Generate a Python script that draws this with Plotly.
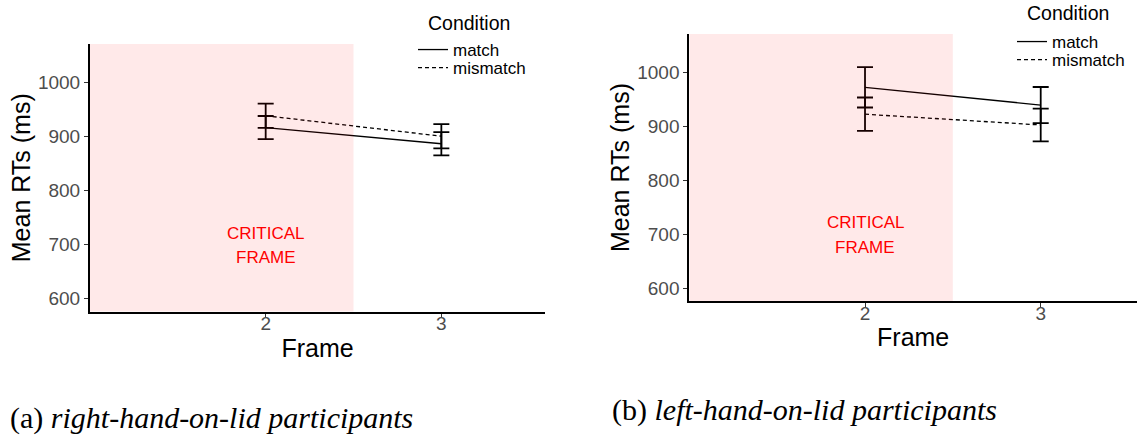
import plotly.graph_objects as go

# ---------------- data ----------------
frames = [2, 3]
x_tickvals = [2, 3]
x_ticktext = ["2", "3"]
y_tickvals = [600, 700, 800, 900, 1000]
conditions = ["match", "mismatch"]

# (a) right-hand-on-lid participants
right_hand_match = [917, 887]
right_hand_match_se = [21.5, 21.5]
right_hand_mismatch = [939, 901]
right_hand_mismatch_se = [22.5, 22.5]

# (b) left-hand-on-lid participants
left_hand_match = [973, 940]
left_hand_match_se = [37.5, 33.5]
left_hand_mismatch = [923, 903]
left_hand_mismatch_se = [31, 30.5]

critical_frame_start = 1.0
critical_frame_end = 2.5
critical_label_lines = ["CRITICAL", "FRAME"]
critical_label_y = [721, 676]
captions = ["(a) <i>right-hand-on-lid participants</i>",
            "(b) <i>left-hand-on-lid participants</i>"]

# ---------------- style / layout helpers ----------------
SANS = "Liberation Sans, Arial, sans-serif"
SERIF = "Liberation Serif, Times New Roman, serif"
dash_styles = {"match": "solid", "mismatch": "4px,3px"}

W, H = 1137, 436


def px(x):                   # page pixel -> paper x
    return x / W


def py(y):                   # page pixel -> paper y
    return 1 - y / H


fig = go.Figure()

panels = [
    dict(x="x", y="y", legends=["legend", "legend2"],
         series={"match": (right_hand_match, right_hand_match_se),
                 "mismatch": (right_hand_mismatch, right_hand_mismatch_se)}),
    dict(x="x2", y="y2", legends=["legend3", "legend4"],
         series={"match": (left_hand_match, left_hand_match_se),
                 "mismatch": (left_hand_mismatch, left_hand_mismatch_se)}),
]

for p in panels:
    for cond, leg in zip(conditions, p["legends"]):
        vals, se = p["series"][cond]
        fig.add_trace(go.Scatter(
            x=frames, y=vals, mode="lines", name=cond,
            xaxis=p["x"], yaxis=p["y"], legend=leg,
            line=dict(color="black", width=1.3, dash=dash_styles[cond]),
            error_y=dict(type="data", array=se, visible=True,
                         color="black", thickness=1.8, width=8),
            hoverinfo="x+y",
        ))

common_x = dict(
    tickvals=x_tickvals, ticktext=x_ticktext,
    showline=True, linecolor="black", linewidth=2,
    ticks="outside", ticklen=4, tickcolor="#333333", tickwidth=1,
    ticklabelstandoff=-10,
    showgrid=False, zeroline=False,
    tickfont=dict(family=SANS, size=19, color="#4d4d4d"),
    title=dict(text="Frame", font=dict(family=SANS, size=25, color="black"), standoff=6),
)
common_y = dict(
    tickvals=y_tickvals, range=[576, 1072],
    showline=True, linecolor="black", linewidth=2,
    ticks="outside", ticklen=4, tickcolor="#333333", tickwidth=1,
    showgrid=False, zeroline=False,
    tickfont=dict(family=SANS, size=19, color="#4d4d4d"),
    title=dict(text="Mean RTs (ms)", font=dict(family=SANS, size=25, color="black"), standoff=0),
)

legend_font = dict(family=SANS, size=17, color="black")


def leg(xp, yp):
    return dict(x=px(xp), y=py(yp), xanchor="left", yanchor="middle",
                font=legend_font, bgcolor="rgba(0,0,0,0)", itemwidth=30,
                tracegroupgap=0)


fig.update_layout(
    width=W, height=H,
    margin=dict(l=0, r=0, t=0, b=0),
    paper_bgcolor="white", plot_bgcolor="white",
    font=dict(family=SANS),
    xaxis=dict(common_x, domain=[px(90), px(545)], range=[1.0, 3.59], anchor="y"),
    yaxis=dict(common_y, domain=[py(311.5), py(44)], anchor="x"),
    xaxis2=dict(common_x, domain=[px(689.3), 1.0], range=[1.0, 3.548], anchor="y2"),
    yaxis2=dict(common_y, domain=[py(301), py(34)], anchor="x2"),
    legend=leg(413, 50),
    legend2=leg(413, 68),
    legend3=leg(1012, 42),
    legend4=leg(1012, 60),
    showlegend=True,
)

for xr, yr in [("x", "y domain"), ("x2", "y2 domain")]:
    fig.add_shape(type="rect", xref=xr, yref=yr,
                  x0=critical_frame_start, x1=critical_frame_end, y0=0, y1=1,
                  fillcolor="rgba(255,0,0,0.085)", line=dict(width=0), layer="above")

for xr, yr in [("x", "y"), ("x2", "y2")]:
    for txt, yy in zip(critical_label_lines, critical_label_y):
        fig.add_annotation(x=frames[0], y=yy, xref=xr, yref=yr, text=txt,
                           showarrow=False, font=dict(family=SANS, size=17, color="red"))

# legend titles
for xpx, ypx in [(426, 23), (1025, 13)]:
    fig.add_annotation(x=px(xpx), y=py(ypx), xref="paper", yref="paper",
                       xanchor="left", yanchor="middle", text="Condition", showarrow=False,
                       font=dict(family=SANS, size=19.5, color="black"))

# captions
for txt, xpx, ypx in zip(captions, [8, 610], [418, 410]):
    fig.add_annotation(x=px(xpx), y=py(ypx), xref="paper", yref="paper",
                       xanchor="left", yanchor="middle", text=txt, showarrow=False,
                       font=dict(family=SERIF, size=30, color="black"))

# remove the browser's default 8px body margin so the figure fills the window
fig.write_html("out.html",
               config={"displayModeBar": False},
               post_script="document.body.style.margin='0';document.body.style.overflow='hidden';")
